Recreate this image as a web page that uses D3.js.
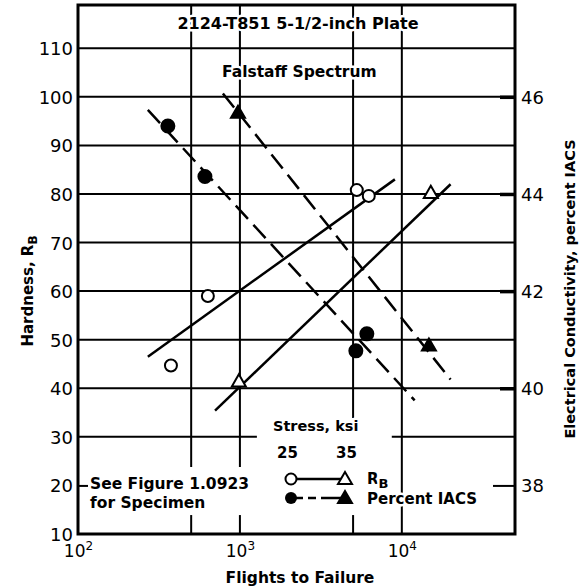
<!DOCTYPE html>
<html>
<head>
<meta charset="utf-8">
<script src="https://cdn.jsdelivr.net/npm/d3@7"></script>
<style>
body { margin: 0; background: #fff; }
text { font-family: "DejaVu Sans", sans-serif; fill: #000; }
</style>
</head>
<body>
<svg id="app" width="581" height="588"></svg>
<script>
// values
const flights25H = [375, 634, 5270, 6250];
const hard25 = [44.7, 59, 80.8, 79.6];
const flights35H = [985, 15100];
const hard35 = [41.2, 80];
const flights25C = [359, 608, 5200, 6080];
const cond25 = [45.4, 44.36, 40.77, 41.12];
const flights35C = [973, 14700];
const cond35 = [45.65, 40.86];

// fitted trend lines, [flights, value]
const fitHard25 = [[270, 46.5], [9060, 83]];
const fitHard35 = [[702, 35.4], [20000, 82]];
const fitCond25 = [[270, 45.73], [12000, 39.75]];
const fitCond35 = [[785, 46.07], [20000, 40.18]];

const hardTicks = [10, 20, 30, 40, 50, 60, 70, 80, 90, 100, 110];
const condTicks = [38, 40, 42, 44, 46];
const flightTicks = [100, 1000, 10000];
const flightExp = ['2', '3', '4'];
const hardGrid = [40, 50, 60, 70, 80, 90, 100, 110];
const flightGrid = [500, 1000, 5000, 10000];

let svg = d3.select('#app')

const x = d3.scaleLog().domain([100, 50000]).range([78, 515]);
const y = d3.scaleLinear().domain([10, 118.9]).range([534, 5]);
const yC = d3.scaleLinear().domain([37, 47.89]).range([534, 5]);

let gridG = svg.append('g').attr('stroke', '#000').attr('stroke-width', 2)

gridG.selectAll('.hg')
.data(hardGrid)
.enter()
.append('line')
.attr('x1', x(100))
.attr('x2', x(50000))
.attr('y1', d => y(d))
.attr('y2', d => y(d))

// 30 line is broken around the legend
gridG.selectAll('.h30')
.data([[100, 1273], [8670, 50000]])
.enter()
.append('line')
.attr('x1', d => x(d[0]))
.attr('x2', d => x(d[1]))
.attr('y1', y(30))
.attr('y2', y(30))

// vertical lines with their gaps (in hardness units)
const vBreaks = {500: [[10, 13.9], [23.8, 118.9]], 1000: [[10, 13.9], [23.8, 118.9]], 5000: [[10, 13.9], [33.9, 118.9]], 10000: [[10, 118.9]]};
flightGrid.forEach(f => {
  gridG.selectAll('.v' + f)
  .data(vBreaks[f])
  .enter()
  .append('line')
  .attr('x1', x(f))
  .attr('x2', x(f))
  .attr('y1', d => y(d[0]))
  .attr('y2', d => y(d[1]))
})

// axes
let leftAxis = svg.append('g')
.attr('transform', `translate(${x(100)},0)`)
.call(d3.axisLeft(y).tickValues(hardTicks).tickSize(0).tickPadding(5))
leftAxis.select('.domain').remove()
leftAxis.selectAll('text').attr('font-size', 18).attr('font-family', 'DejaVu Sans').attr('dy', '0.36em')

svg.append('g')
.attr('transform', `translate(${x(100)},0)`)
.call(d3.axisRight(y).tickValues([20]).tickSize(10).tickFormat(''))
.call(g => g.select('.domain').remove())
.selectAll('line').attr('stroke-width', 2)

let rightAxis = svg.append('g')
.attr('transform', `translate(${x(50000)},0)`)
.call(d3.axisRight(yC).tickValues(condTicks).tickSize(0).tickPadding(6))
rightAxis.select('.domain').remove()
rightAxis.selectAll('text').attr('font-size', 18).attr('font-family', 'DejaVu Sans').attr('dy', '0.36em')

svg.append('g')
.attr('transform', `translate(${x(50000)},0)`)
.call(d3.axisLeft(yC).tickValues([40, 42, 44, 46]).tickSize(15).tickFormat(''))
.call(g => g.select('.domain').remove())
.selectAll('line').attr('stroke-width', 3.5)

svg.append('g')
.attr('transform', `translate(${x(50000)},0)`)
.call(d3.axisLeft(yC).tickValues([38]).tickSize(22).tickFormat(''))
.call(g => g.select('.domain').remove())
.selectAll('line').attr('stroke-width', 2)

let bottomAxis = svg.append('g')
.attr('transform', `translate(0,${y(10)})`)
.call(d3.axisBottom(x).tickValues(flightTicks).tickSize(0).tickPadding(11).tickFormat(''))
bottomAxis.select('.domain').remove()
bottomAxis.selectAll('text')
.attr('font-size', 17)
.attr('font-family', 'DejaVu Sans')
.each(function(d, i) {
  const t = d3.select(this)
  t.append('tspan').text('10')
  t.append('tspan').attr('font-size', 12).attr('dy', '-0.55em').text(flightExp[i])
})

// frame
svg.append('rect')
.attr('x', x(100))
.attr('y', y(118.9))
.attr('width', x(50000) - x(100))
.attr('height', y(10) - y(118.9))
.attr('fill', 'none')
.attr('stroke', '#000')
.attr('stroke-width', 3)

// trend lines
const line = d3.line()
let fitG = svg.append('g').attr('fill', 'none').attr('stroke', '#000').attr('stroke-width', 2.5)
fitG.selectAll('.fh')
.data([fitHard25, fitHard35])
.enter()
.append('path')
.attr('d', d => line(d.map(p => [x(p[0]), y(p[1])])))
fitG.selectAll('.fc')
.data([fitCond25, fitCond35])
.enter()
.append('path')
.attr('d', d => line(d.map(p => [x(p[0]), yC(p[1])])))
.attr('stroke-dasharray', '18,8')

// points
let ptG = svg.append('g').attr('stroke', '#000').attr('stroke-width', 2)
ptG.selectAll('.oc')
.data(flights25H.map((f, i) => [f, hard25[i]]))
.enter()
.append('circle')
.attr('cx', d => x(d[0]))
.attr('cy', d => y(d[1]))
.attr('r', 6)
.attr('fill', '#fff')
ptG.selectAll('.fc')
.data(flights25C.map((f, i) => [f, cond25[i]]))
.enter()
.append('circle')
.attr('cx', d => x(d[0]))
.attr('cy', d => yC(d[1]))
.attr('r', 6.5)
.attr('fill', '#000')
const tri = d3.symbol().type(d3.symbolTriangle).size(85)
ptG.selectAll('.ot')
.data(flights35H.map((f, i) => [f, hard35[i]]))
.enter()
.append('path')
.attr('d', tri)
.attr('transform', d => `translate(${x(d[0])},${y(d[1])})`)
.attr('fill', '#fff')
ptG.selectAll('.ft')
.data(flights35C.map((f, i) => [f, cond35[i]]))
.enter()
.append('path')
.attr('d', tri)
.attr('transform', d => `translate(${x(d[0])},${yC(d[1])})`)
.attr('fill', '#000')

// texts on the plot, with a white halo to break the grid
const halo = sel => sel.attr('stroke', '#fff').attr('stroke-width', 5).attr('paint-order', 'stroke').attr('stroke-linejoin', 'round')

svg.append('text').attr('x', 298).attr('y', 29).attr('text-anchor', 'middle')
.attr('font-size', 16).attr('font-weight', 'bold').call(halo)
.text('2124-T851 5-1/2-inch Plate')

svg.append('text').attr('x', 222).attr('y', 77)
.attr('font-size', 15.5).attr('font-weight', 'bold').call(halo)
.text('Falstaff Spectrum')

svg.append('text').attr('x', 90).attr('y', 489)
.attr('font-size', 15.5).attr('font-weight', 'bold').call(halo)
.text('See Figure 1.0923')
svg.append('text').attr('x', 90).attr('y', 508)
.attr('font-size', 15.5).attr('font-weight', 'bold').call(halo)
.text('for Specimen')

// legend
let legG = svg.append('g')
legG.append('text').attr('x', 273).attr('y', 431).attr('font-size', 14.5).attr('font-weight', 'bold').call(halo).text('Stress, ksi')
legG.append('text').attr('x', 277).attr('y', 458).attr('font-size', 15).attr('font-weight', 'bold').call(halo).text('25')
legG.append('text').attr('x', 336).attr('y', 458).attr('font-size', 15).attr('font-weight', 'bold').call(halo).text('35')

legG.append('line').attr('x1', 291).attr('x2', 345).attr('y1', 479).attr('y2', 479).attr('stroke', '#000').attr('stroke-width', 2.5)
legG.append('line').attr('x1', 291).attr('x2', 345).attr('y1', 498).attr('y2', 498).attr('stroke', '#000').attr('stroke-width', 2.5).attr('stroke-dasharray', '12,5,8,5,30')
legG.append('circle').attr('cx', 291).attr('cy', 479).attr('r', 5.5).attr('fill', '#fff').attr('stroke', '#000').attr('stroke-width', 2)
legG.append('circle').attr('cx', 291).attr('cy', 498).attr('r', 6).attr('fill', '#000')
legG.append('path').attr('d', tri).attr('transform', 'translate(345,480)').attr('fill', '#fff').attr('stroke', '#000').attr('stroke-width', 2)
legG.append('path').attr('d', tri).attr('transform', 'translate(345,499)').attr('fill', '#000').attr('stroke', '#000').attr('stroke-width', 2)

let rb = legG.append('text').attr('x', 367).attr('y', 484).attr('font-size', 15).attr('font-weight', 'bold').call(halo)
rb.append('tspan').text('R')
rb.append('tspan').attr('dy', '0.3em').attr('font-size', 13).text('B')
legG.append('text').attr('x', 367).attr('y', 504).attr('font-size', 15).attr('font-weight', 'bold').call(halo).text('Percent IACS')

// axis titles
let hTitle = svg.append('text')
.attr('transform', 'translate(33,291) rotate(-90)')
.attr('text-anchor', 'middle')
.attr('font-size', 15).attr('font-weight', 'bold')
hTitle.append('tspan').text('Hardness, R')
hTitle.append('tspan').attr('dy', '0.3em').attr('font-size', 12).text('B')

svg.append('text')
.attr('transform', 'translate(575,289) rotate(-90)')
.attr('text-anchor', 'middle')
.attr('font-size', 14.5).attr('font-weight', 'bold')
.text('Electrical Conductivity, percent IACS')

svg.append('text')
.attr('x', 300).attr('y', 583)
.attr('text-anchor', 'middle')
.attr('font-size', 15.5).attr('font-weight', 'bold')
.text('Flights to Failure')
</script>
</body>
</html>
